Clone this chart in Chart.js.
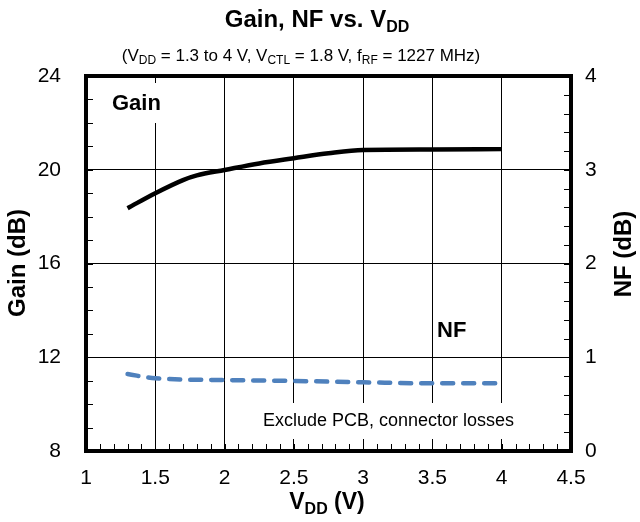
<!DOCTYPE html>
<html>
<head>
<meta charset="utf-8">
<script src="https://cdn.jsdelivr.net/npm/chart.js@4"></script>
<style>
  html, body { margin: 0; padding: 0; background: #fff; }
  #wrap { width: 640px; height: 522px; }
</style>
</head>
<body>
<div id="wrap"><canvas id="chart" width="640" height="522"></canvas></div>
<script>
// data
const vddGain = [1.3, 1.5, 1.7, 1.8, 2.0, 2.25, 2.5, 2.75, 3.0, 3.5, 4.0];
const gainDb  = [18.36, 19.0, 19.56, 19.76, 19.99, 20.27, 20.49, 20.7, 20.84, 20.86, 20.88];
const vddNf   = [1.3, 1.5, 2.0, 2.5, 3.0, 3.5, 4.0];
const nfDb    = [0.821, 0.775, 0.757, 0.747, 0.733, 0.722, 0.722];

const xTicks = [1, 1.5, 2, 2.5, 3, 3.5, 4, 4.5];
const gainTicks = [8, 12, 16, 20, 24];
const nfTicks = [0, 1, 2, 3, 4];

const FONT = '"Liberation Sans", Arial, sans-serif';

// text with subscripts: parts = [[text, isSub], ...]
function richText(ctx, parts, cx, cy, size, bold) {
  const w = bold ? 'bold ' : '';
  const subSize = Math.round(size * 0.68);
  let total = 0;
  parts.forEach(p => {
    ctx.font = w + (p[1] ? subSize : size) + 'px ' + FONT;
    total += ctx.measureText(p[0]).width;
  });
  let x = cx - total / 2;
  ctx.textAlign = 'left';
  ctx.textBaseline = 'middle';
  parts.forEach(p => {
    ctx.font = w + (p[1] ? subSize : size) + 'px ' + FONT;
    ctx.fillText(p[0], x, p[1] ? cy + size * 0.3 : cy);
    x += ctx.measureText(p[0]).width;
  });
}

const decor = {
  id: 'decor',
  beforeDatasetsDraw(chart) {
    const c = chart.ctx;
    c.save();
    // white boxes behind the in-plot labels
    c.fillStyle = '#fff';
    c.fillRect(100, 83, 110, 40);
    c.fillRect(433, 305, 60, 47);
    c.fillRect(256, 403, 268, 36);
    c.fillStyle = '#000';
    c.textBaseline = 'middle';
    c.textAlign = 'left';
    c.font = 'bold 22px ' + FONT;
    c.fillText('Gain', 112, 104);
    c.fillText('NF', 437, 331);
    c.font = '18px ' + FONT;
    c.fillText('Exclude PCB, connector losses', 263, 421);
    c.restore();
  },
  afterDraw(chart) {
    const c = chart.ctx;
    const a = chart.chartArea;
    const sx = chart.scales.x, sy = chart.scales.y, sy2 = chart.scales.y2;
    c.save();
    c.strokeStyle = '#000';
    c.lineWidth = 1;
    c.beginPath();
    for (let i = 10; i <= 45; i++) {
      const px = Math.round(sx.getPixelForValue(i / 10)) + 0.5;
      c.moveTo(px, a.bottom); c.lineTo(px, a.bottom - 7);
    }
    for (let i = 8; i <= 24; i++) {
      const py = Math.round(sy.getPixelForValue(i)) + 0.5;
      c.moveTo(a.left, py); c.lineTo(a.left + 7, py);
    }
    for (let i = 0; i <= 20; i++) {
      const py = Math.round(sy2.getPixelForValue(i / 5)) + 0.5;
      c.moveTo(a.right, py); c.lineTo(a.right - 7, py);
    }
    c.stroke();
    // heavy frame
    c.lineWidth = 4;
    c.strokeRect(a.left, a.top, a.right - a.left, a.bottom - a.top);

    c.fillStyle = '#000';
    richText(c, [['Gain, NF vs. V', false], ['DD', true]], 317, 20, 24, true);
    richText(c, [['(V', false], ['DD', true], [' = 1.3 to 4 V, V', false], ['CTL', true],
                 [' = 1.8 V, f', false], ['RF', true], [' = 1227 MHz)', false]], 301, 56, 17, false);
    richText(c, [['V', false], ['DD', true], [' (V)', false]], 327, 503, 23, true);

    c.save();
    c.translate(18, 263);
    c.rotate(-Math.PI / 2);
    richText(c, [['Gain (dB)', false]], 0, 0, 24, true);
    c.restore();
    c.save();
    c.translate(624, 254);
    c.rotate(-Math.PI / 2);
    richText(c, [['NF (dB)', false]], 0, 0, 24, true);
    c.restore();
    c.restore();
  }
};

const tickFont = { family: FONT, size: 21 };
const plainNum = v => String(+v);

new Chart(document.getElementById('chart'), {
  type: 'line',
  data: {
    datasets: [
      {
        label: 'Gain',
        data: vddGain.map((v, i) => ({ x: v, y: gainDb[i] })),
        yAxisID: 'y',
        borderColor: '#000',
        borderWidth: 4.5,
        pointRadius: 0,
        cubicInterpolationMode: 'monotone',
        borderCapStyle: 'butt'
      },
      {
        label: 'NF',
        data: vddNf.map((v, i) => ({ x: v, y: nfDb[i] })),
        yAxisID: 'y2',
        borderColor: '#4f81bd',
        borderWidth: 4.5,
        borderDash: [11, 10],
        borderCapStyle: 'round',
        pointRadius: 0,
        cubicInterpolationMode: 'monotone'
      }
    ]
  },
  options: {
    responsive: false,
    animation: false,
    layout: { padding: { top: 76, left: 0, right: 0, bottom: 0 } },
    plugins: { legend: { display: false }, tooltip: { enabled: false } },
    scales: {
      x: {
        type: 'linear', min: 1, max: 4.5,
        afterBuildTicks: s => { s.ticks = xTicks.map(v => ({ value: v })); },
        afterFit: s => { s.height = 71; },
        ticks: { font: tickFont, color: '#000', padding: 15, maxRotation: 0, callback: plainNum },
        grid: { color: '#000', lineWidth: 1, drawTicks: false },
        border: { display: false }
      },
      y: {
        position: 'left', min: 8, max: 24,
        afterBuildTicks: s => { s.ticks = gainTicks.map(v => ({ value: v })); },
        afterFit: s => { s.width = 86; },
        ticks: { font: tickFont, color: '#000', padding: 25, callback: plainNum },
        grid: { color: '#000', lineWidth: 1, drawTicks: false },
        border: { display: false }
      },
      y2: {
        position: 'right', min: 0, max: 4,
        afterBuildTicks: s => { s.ticks = nfTicks.map(v => ({ value: v })); },
        afterFit: s => { s.width = 69; },
        ticks: { font: tickFont, color: '#000', padding: 14, callback: plainNum },
        grid: { drawOnChartArea: false, drawTicks: false },
        border: { display: false }
      }
    }
  },
  plugins: [decor]
});
</script>
</body>
</html>
